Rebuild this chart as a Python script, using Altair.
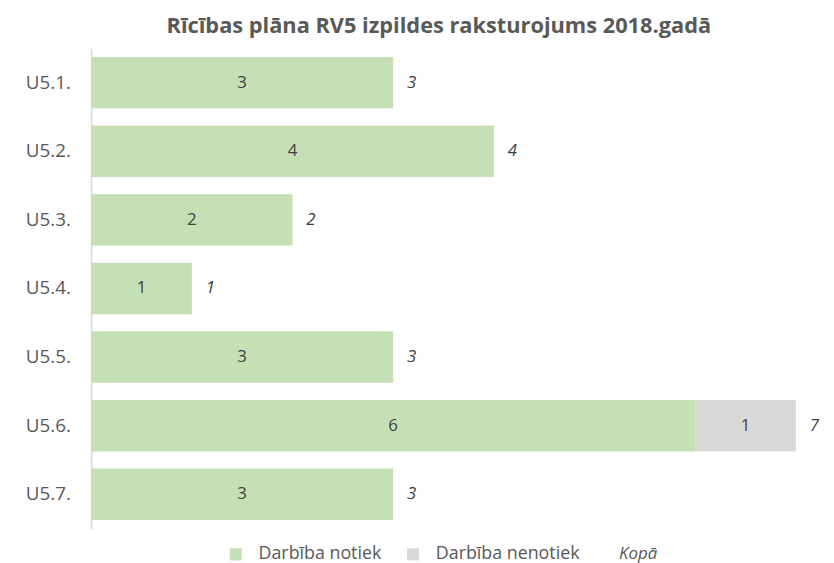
import altair as alt
import pandas as pd

categories = ["U5.1.", "U5.2.", "U5.3.", "U5.4.", "U5.5.", "U5.6.", "U5.7."]
notiek = [3, 4, 2, 1, 3, 6, 3]
nenotiek = [0, 0, 0, 0, 0, 1, 0]
kopa = [3, 4, 2, 1, 3, 7, 3]

series_names = ["Darbība notiek", "Darbība nenotiek"]
series_colors = ["#C5E0B4", "#D9D9D9"]

rows = []
for c, a, b in zip(categories, notiek, nenotiek):
    rows.append({"cat": c, "series": series_names[0], "start": 0, "end": a, "val": a})
    rows.append({"cat": c, "series": series_names[1], "start": a, "end": a + b, "val": b})
df = pd.DataFrame(rows)
df["mid"] = (df["start"] + df["end"]) / 2

tot = pd.DataFrame({"cat": categories, "total": kopa, "lab": ["Kopā"] * len(categories)})

font = "Open Sans"
xscale = alt.Scale(domain=[0, 7.3], nice=False, zero=True)
yenc = alt.Y("cat:N", sort=categories, title=None,
             scale=alt.Scale(paddingInner=0.25, paddingOuter=0.125),
             axis=alt.Axis(ticks=False, labelPadding=21, labelFontSize=19, labelColor="#595959",
                           labelFont=font, domainColor="#D9D9D9", domainWidth=1.5))

bars = alt.Chart(df).transform_filter("datum.val > 0").mark_bar().encode(
    y=yenc,
    x=alt.X("start:Q", scale=xscale, axis=None),
    x2="end:Q",
    color=alt.Color("series:N", scale=alt.Scale(domain=series_names, range=series_colors),
                    legend=alt.Legend(title=None, orient="none", legendX=137, legendY=502,
                                      direction="horizontal",
                                      symbolType="square", symbolSize=150, labelFontSize=18,
                                      labelColor="#595959", labelFont=font, columnPadding=22,
                                      labelOffset=14)),
)

labels = alt.Chart(df).transform_filter("datum.val > 0").mark_text(
    fontSize=17, color="#404040", font=font
).encode(
    y=alt.Y("cat:N", sort=categories),
    x=alt.X("mid:Q", scale=xscale),
    text="val:Q",
)

totals = alt.Chart(tot).mark_text(
    fontSize=17, fontStyle="italic", align="left", dx=14, font=font
).encode(
    y=alt.Y("cat:N", sort=categories),
    x=alt.X("total:Q", scale=xscale),
    text="total:Q",
    color=alt.Color("lab:N", scale=alt.Scale(domain=["Kopā"], range=["#404040"]),
                    legend=alt.Legend(title=None, orient="none", legendX=516, legendY=502,
                                      symbolOpacity=0, symbolSize=0, labelOffset=0,
                                      labelFontStyle="italic", labelFontSize=17,
                                      labelColor="#595959", labelFont=font)),
)

chart = alt.layer(bars, labels, totals).resolve_scale(color="independent").properties(
    width=742, height=485,
    title=alt.TitleParams("Rīcības plāna RV5 izpildes raksturojums 2018.gadā",
                          fontSize=22, fontWeight="bold", color="#595959", font=font,
                          anchor="middle", dx=-20, offset=10),
    autosize=alt.AutoSizeParams(type="none"),
    padding={"left": 84, "top": 38, "right": 0, "bottom": 32},
).configure_view(stroke=None)

chart.save("out.html", embed_options={"renderer": "svg", "actions": False})
